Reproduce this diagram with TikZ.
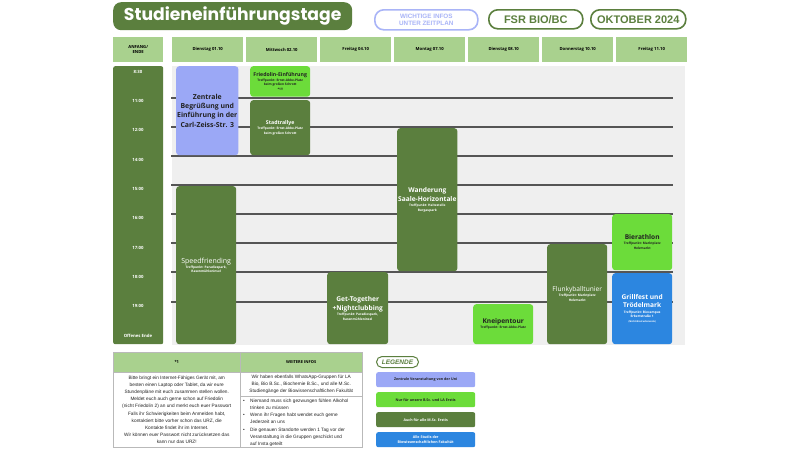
\documentclass[tikz,border=0pt]{standalone}
\usepackage{fontspec}
\setmainfont{Liberation Sans}
\newfontfamily\tfont{Poppins}
\newfontfamily\efont{Open Sans}
\newcommand\fsz[2]{\fontsize{#1}{#2}\selectfont}
\newcommand\evttl{\efont\bfseries\fsz{6.6}{8.2}}
\newcommand\evsml{\efont\bfseries\fsz{5.2}{6.4}}
\newcommand\evsub{\efont\bfseries\fsz{3.2}{4.6}}
\definecolor{dg}{HTML}{5B7F3E}
\definecolor{lg}{HTML}{A9D18E}
\definecolor{brg}{HTML}{6CDC3A}
\definecolor{lav}{HTML}{9BA8F6}
\definecolor{lavb}{HTML}{A9B4F7}
\definecolor{blu}{HTML}{2C86E0}
\definecolor{gbg}{HTML}{EFEFEF}
\definecolor{ln}{HTML}{555555}
\definecolor{dtx}{HTML}{222222}
\begin{document}
\begin{tikzpicture}[x=1pt,y=-1pt,
  ev/.style={anchor=north west, rounded corners=3pt, inner sep=1pt, align=center, font=\evsub},
  hdr/.style={anchor=north west, fill=lg, inner sep=0pt, align=center, minimum height=25, font=\efont\bfseries\fsz{4.2}{5.4}},
  pill/.style={anchor=north west, draw=dg, line width=1.6pt, fill=white, rounded corners=9pt, inner sep=0pt, align=center, text=dg},
  cell/.style={anchor=north west, draw=gray!55, line width=0.5pt, inner sep=0pt, align=center},
  leg/.style={anchor=north west, rounded corners=2pt, minimum width=99, minimum height=15, inner sep=0pt, align=center, font=\efont\bfseries\fsz{3.6}{5.4}},
  tl/.style={font=\efont\bfseries\fsz{4.3}{5}, text=white},
  gl/.style={draw=ln, line width=1.6pt}]
\useasboundingbox (0,0) rectangle (800,450);
\fill[white] (0,0) rectangle (800,450);

% title row
\node[anchor=north west, fill=dg, rounded corners=8pt, minimum width=239, minimum height=28, inner sep=0pt, font=\tfont\bfseries\fsz{17.2}{18}, text=white] (ttl) at (113,2) {Studieneinführungstage};
\node[pill, draw=lavb, text=lavb, minimum width=103, minimum height=20, font=\bfseries\fsz{6.3}{7}] (wi) at (374,9) {WICHTIGE INFOS\\UNTER ZEITPLAN};
\node[pill, minimum width=94, minimum height=19, font=\bfseries\fsz{11}{12}] (fsr) at (488,9) {FSR BIO/BC};
\node[pill, minimum width=95, minimum height=19, font=\bfseries\fsz{11}{12}] (okt) at (590,9) {OKTOBER 2024};

% header row
\node[hdr, minimum width=50] (ae) at (113,37) {ANFANG/\\ENDE};
\foreach \i/\xx/\nm in {1/172/Dienstag 01.10, 2/246/Mittwoch 02.10, 3/320/Freitag 04.10, 4/394/Montag 07.10, 5/468/Dienstag 08.10, 6/542/Donnerstag 10.10, 7/616/Freitag 11.10}
  \node[hdr, minimum width=71] (d\i) at (\xx,37) {\nm};

% time column
\node[anchor=north west, fill=dg, rounded corners=2pt, minimum width=50, minimum height=278, inner sep=0pt] (tc) at (113,66) {};
\foreach \i/\yy/\t in {1/72/8:30, 2/101/11:00, 3/130/12:00, 4/160/14:00, 5/189/15:00, 6/218/16:00, 7/248/17:00, 8/277/18:00, 9/306/19:00, 10/336/Offenes Ende}
  \node[tl] (t\i) at (138,\yy) {\t};

% grid background and lines
\node[anchor=north west, fill=gbg, minimum width=513, minimum height=279, inner sep=0pt] (grid) at (172,66) {};
\foreach \yy in {98,127,156,185,214,243,272,302}
  \draw[gl] (171,\yy) -- (673,\yy);

% events
\node[ev, fill=lav, minimum width=60, minimum height=89, text=dtx, font=\efont\bfseries\fsz{6.9}{9.4}] (zb) at (176,66)
  {Zentrale\\Begrüßung und\\Einführung in der\\Carl-Zeiss-Str. 3};
\node[ev, fill=brg, minimum width=60, minimum height=30.5, text=dtx] (fe) at (250,66)
  {\evsml Friedolin-Einführung\\[0.3pt]Treffpunkt: Ernst-Abbe-Platz\\beim großen Schrott\\*1!!};
\node[ev, fill=dg, minimum width=60, minimum height=55, text=white] (sr) at (250,100)
  {\evsml Stadtrallye\\[0.5pt]Treffpunkt: Ernst-Abbe-Platz\\beim großen Schrott};
\node[ev, fill=dg, minimum width=60, minimum height=158, text=white] (sf) at (176,186)
  {\efont\mdseries\fsz{7}{8.5}Speedfriending\\[0.5pt]Treffpunkt: Paradiespark,\\Rasenmühleninsel};
\node[ev, fill=dg, minimum width=60, minimum height=143, text=white] (wa) at (397,128)
  {\evttl Wanderung\\[1.5pt]\evttl Saale-Horizontale\\[0.5pt]Treffpunkt: Haltestelle\\Burgaupark};
\node[ev, fill=dg, minimum width=61, minimum height=72, text=white] (gt) at (327,272)
  {\evttl Get-Together\\[1.5pt]\evttl +Nightclubbing\\[0.5pt]Treffpunkt: Paradiespark,\\Rasenmühleninsel};
\node[ev, fill=brg, minimum width=60, minimum height=40, text=dtx] (kn) at (473,304)
  {\evttl Kneipentour\\[0.5pt]Treffpunkt: Ernst-Abbe-Platz};
\node[ev, fill=dg, minimum width=60, minimum height=100, text=white] (fl) at (547,244)
  {\efont\mdseries\fsz{6.6}{8.2}Flunkyballtunier\\[0.5pt]Treffpunkt: Marktplatz\\Holzmarkt};
\node[ev, fill=brg, minimum width=60, minimum height=56, text=dtx] (bi) at (612,214)
  {\evttl Bierathlon\\[0.5pt]Treffpunkt: Marktplatz\\Holzmarkt};
\node[ev, fill=blu, minimum width=60, minimum height=71, text=white] (gr) at (612,273)
  {\evttl Grillfest und\\[2pt]\evttl Trödelmark\\[1pt]Treffpunkt: Biocampus\\Erbertstraße 1\\\efont\fsz{2.4}{3.2}(Nicht-Biostudierende)};

% info table
\node[cell, fill=lg, minimum width=127, minimum height=20, font=\efont\bfseries\fsz{4}{5}] (h1) at (113,352) {*1};
\node[cell, fill=lg, minimum width=122, minimum height=20, font=\efont\bfseries\fsz{4}{5}] (h2) at (240,352) {WEITERE INFOS};
\node[cell, minimum width=127, minimum height=75, text=dtx, font=\fsz{4.75}{7.1}] (b1) at (113,372)
  {Bitte bringt ein Internet-Fähiges Gerät mit, am\\besten einen Laptop oder Tablet, da wir eure\\Stundenpläne mit euch zusammen stellen wollen.\\Meldet euch auch gerne schon auf Friedolin\\(nicht Friedolin 2) an und merkt euch euer Passwort\\Falls ihr Schwierigkeiten beim Anmelden habt,\\kontaktiert bitte vorher schon das URZ, die\\Kontakte findet ihr im Internet.\\Wir können euer Passwort nicht zurücksetzen das\\kann nur das URZ!};
\node[cell, minimum width=122, minimum height=24, text=dtx, font=\fsz{4.75}{7.1}] (b2) at (240,372)
  {Wir haben ebenfalls WhatsApp-Gruppen für LA\\Bio, Bio B.Sc., Biochemie B.Sc., und alle M.Sc.\\Studiengänge der Biowissenschaftlichen Fakultät};
\node[cell, minimum width=122, minimum height=51, text=dtx] (b3) at (240,396) {};
\node[anchor=north west, align=left, inner sep=0pt, text=dtx, font=\fsz{4.75}{7.1}] (bl) at (243,399)
  {\makebox[7pt][l]{•}Niemand muss sich gezwungen fühlen Alkohol\\\hspace*{7pt}trinken zu müssen\\\makebox[7pt][l]{•}Wenn ihr Fragen habt wendet euch gerne\\\hspace*{7pt}Jederzeit an uns\\\makebox[7pt][l]{•}Die genauen Standorte werden 1 Tag vor der\\\hspace*{7pt}Veranstaltung in die Gruppen geschickt und\\\hspace*{7pt}auf Insta geteilt};

% legend
\node[pill, line width=1pt, rounded corners=5.5pt, minimum width=42, minimum height=11, font=\bfseries\itshape\fsz{6.5}{7}] (lgd) at (376,356) {LEGENDE};
\node[leg, fill=lav, text=dtx] (l1) at (376,372) {Zentrale Veranstaltung von der Uni};
\node[leg, fill=brg, text=dtx] (l2) at (376,392) {Nur für unsere B.Sc. und LA Erstis};
\node[leg, fill=dg, text=white] (l3) at (376,412) {Auch für alle M.Sc. Erstis};
\node[leg, fill=blu, text=white] (l4) at (376,432) {Alle Studis der\\Biowissenschaftlichen Fakultät};
\end{tikzpicture}
\end{document}
